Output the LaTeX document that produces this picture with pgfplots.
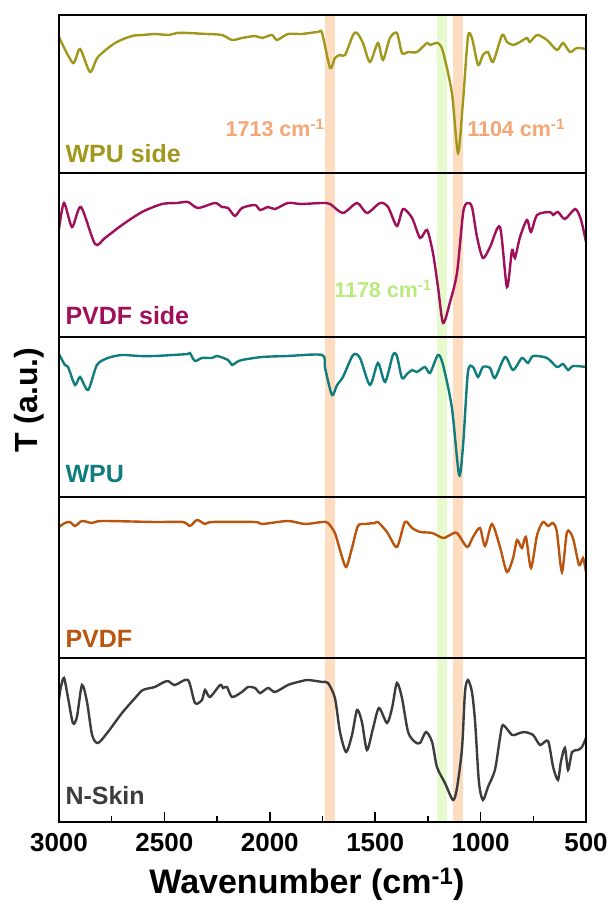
\documentclass[border=0pt]{standalone}
\usepackage{pgfplots}
\pgfplotsset{compat=1.18}
\usepackage{fontspec}
\setmainfont{Liberation Sans}
\definecolor{cWPUs}{RGB}{160,152,28}
\definecolor{cPVDFs}{RGB}{160,16,90}
\definecolor{cWPU}{RGB}{16,125,125}
\definecolor{cPVDF}{RGB}{185,85,15}
\definecolor{cNS}{RGB}{60,60,60}
\definecolor{bandO}{RGB}{253,220,192}
\definecolor{bandG}{RGB}{230,250,205}
\definecolor{txtO}{RGB}{244,166,116}
\definecolor{txtG}{RGB}{187,234,125}
\pgfplotsset{
  panel/.style={scale only axis, width=527pt, xmin=500, xmax=3000, x dir=reverse,
    ytick=\empty, axis line style={line width=1.5pt}, axis on top,
    anchor=south west},
  spec/.style={line width=2.4pt, smooth, tension=0.45},
}
\newcommand{\bands}{%
  \addplot[draw=none, fill=bandO] coordinates {(1690,-20) (1738,-20) (1738,200) (1690,200)} -- cycle;
  \addplot[draw=none, fill=bandG] coordinates {(1160,-20) (1207,-20) (1207,200) (1160,200)} -- cycle;
  \addplot[draw=none, fill=bandO] coordinates {(1083,-20) (1131,-20) (1131,200) (1083,200)} -- cycle;
}
\newcommand{\lab}[3]{\node[anchor=base west, inner sep=0pt, text=#1, font=\fontsize{25}{25}\selectfont\bfseries] at (axis cs:2970,#2) {#3};}
\begin{document}
\begin{tikzpicture}
\path[use as bounding box] (0,0) rectangle (612pt,905pt);
% P1 WPU side
\begin{axis}[panel, xtick=\empty, at={(59pt,732pt)}, height=158pt, ymin=3, ymax=161]
\bands
\addplot[spec, cWPUs] coordinates {(3000,139) (2934,113) (2900,127) (2853,104) (2815,119) (2734,133) (2654,140) (2600,141) (2545,142) (2480,141) (2440,143) (2388,143) (2300,142) (2227,141) (2179,136) (2132,138) (2070,140) (2037,138) (1990,141) (1966,136) (1914,142) (1850,142) (1771,144) (1752,143) (1714,108) (1691,118) (1667,121) (1643,121) (1605,141) (1586,143) (1558,133) (1525,114) (1487,133) (1463,116) (1430,138) (1397,143) (1373,123) (1344,124) (1302,124) (1254,133) (1240,131) (1202,133) (1178,124) (1136,83) (1107,23) (1083,76) (1060,139) (1041,138) (1012,111) (989,121) (965,124) (941,114) (898,141) (875,134) (846,131) (813,134) (780,138) (766,134) (732,141) (685,136) (638,126) (609,133) (576,124) (543,128) (500,127)};
\lab{cWPUs}{13}{WPU side}
\node[anchor=base west, inner sep=0pt, text=txtO, font=\fontsize{21.5}{21.5}\selectfont\bfseries] at (axis cs:2210,39) {1713 cm\textsuperscript{-1}};
\node[anchor=base west, inner sep=0pt, text=txtO, font=\fontsize{21.5}{21.5}\selectfont\bfseries] at (axis cs:1064,39) {1104 cm\textsuperscript{-1}};
\end{axis}
% P2 PVDF side
\begin{axis}[panel, xtick=\empty, at={(59pt,568pt)}, height=164pt, ymin=-3, ymax=161]
\bands
\addplot[spec, cPVDFs] coordinates {(3000,105) (2976,131) (2938,107) (2896,127) (2829,90) (2782,96) (2701,109) (2606,122) (2511,130) (2440,131) (2388,132) (2341,126) (2260,131) (2227,127) (2198,126) (2165,118) (2132,126) (2070,129) (2046,124) (2008,127) (1975,125) (1914,131) (1850,130) (1752,131) (1714,130) (1653,121) (1586,131) (1539,121) (1477,131) (1439,127) (1397,108) (1368,125) (1325,116) (1287,96) (1254,104) (1226,81) (1202,47) (1178,11) (1145,32) (1112,61) (1083,121) (1064,131) (1041,127) (1017,97) (989,76) (955,87) (908,107) (875,47) (851,84) (837,76) (813,97) (780,114) (761,102) (732,119) (671,122) (656,119) (633,122) (600,115) (552,125) (528,117) (514,106) (500,92)};
\lab{cPVDFs}{9}{PVDF side}
\node[anchor=base west, inner sep=0pt, text=txtG, font=\fontsize{21.5}{21.5}\selectfont\bfseries] at (axis cs:1695,36) {1178 cm\textsuperscript{-1}};
\end{axis}
% P3 WPU
\begin{axis}[panel, xtick=\empty, at={(59pt,408pt)}, height=160pt, ymin=1, ymax=161]
\bands
\addplot[spec, cWPU] coordinates {(3000,144) (2972,133) (2957,131) (2924,113) (2900,121) (2862,108) (2820,133) (2768,140) (2701,143) (2620,142) (2545,142) (2460,143) (2388,144) (2379,145) (2355,137) (2322,140) (2274,140) (2250,142) (2198,138) (2179,133) (2156,136) (2132,138) (2037,141) (1914,142) (1752,143) (1738,130) (1705,103) (1681,113) (1653,121) (1605,143) (1572,140) (1525,113) (1487,135) (1453,116) (1416,143) (1397,142) (1373,120) (1349,124) (1325,128) (1302,126) (1264,131) (1240,125) (1202,143) (1178,133) (1136,90) (1102,23) (1083,53) (1060,126) (1036,131) (1012,121) (989,131) (955,130) (932,120) (884,141) (846,128) (804,140) (775,135) (751,142) (685,140) (638,131) (609,134) (585,128) (562,132) (500,131)};
\lab{cWPU}{15}{WPU}
\end{axis}
% P4 PVDF
\begin{axis}[panel, xtick=\empty, at={(59pt,247pt)}, height=161pt, ymin=0, ymax=161]
\bands
\addplot[spec, cPVDF] coordinates {(3000,131) (2972,135) (2948,136) (2924,132) (2891,137) (2843,135) (2796,137) (2545,136) (2412,136) (2379,132) (2345,138) (2307,134) (2274,136) (2070,136) (2037,134) (1914,137) (1833,134) (1752,136) (1724,135) (1691,125) (1667,108) (1638,91) (1610,110) (1582,132) (1548,134) (1501,135) (1487,136) (1444,126) (1397,111) (1359,136) (1325,130) (1287,126) (1230,125) (1178,120) (1145,123) (1112,125) (1064,111) (1036,121) (1003,130) (979,112) (946,134) (908,111) (875,86) (846,100) (827,118) (804,110) (785,121) (761,90) (732,123) (704,136) (680,132) (656,135) (638,126) (614,86) (590,126) (562,120) (533,93) (514,100) (500,86)};
\lab{cPVDF}{10}{PVDF}
\end{axis}
% P5 N-Skin
\begin{axis}[panel, at={(59pt,83pt)}, height=164pt, ymin=-3, ymax=161,
  xtick={500,1000,1500,2000,2500,3000}, minor xtick={750,1250,1750,2250,2750},
  xtick pos=bottom, tick align=inside, major tick length=10pt, minor tick length=6pt,
  tick style={line width=1.5pt, black},
  /pgf/number format/assume math mode=true, /pgf/number format/1000 sep={},
  xticklabel style={font=\fontsize{26}{26}\selectfont\bfseries, yshift=-8pt}]
\bands
\addplot[spec, cNS] coordinates {(3000,120) (2991,132) (2976,141) (2957,121) (2934,96) (2915,102) (2891,134) (2867,117) (2843,84) (2815,76) (2768,87) (2701,106) (2639,121) (2602,129) (2545,132) (2511,136) (2483,138) (2450,134) (2388,139) (2355,116) (2322,119) (2307,129) (2284,122) (2236,134) (2222,131) (2203,132) (2179,122) (2132,127) (2103,132) (2070,131) (2046,126) (2008,131) (1975,127) (1914,134) (1866,137) (1819,139) (1752,137) (1724,136) (1691,121) (1667,87) (1638,67) (1610,84) (1586,109) (1563,97) (1539,69) (1510,91) (1482,111) (1444,96) (1420,111) (1397,136) (1373,121) (1344,87) (1311,77) (1287,76) (1259,87) (1230,77) (1207,52) (1169,36) (1131,19) (1112,31) (1088,71) (1074,127) (1060,139) (1041,127) (1026,97) (1008,37) (989,19) (965,32) (932,49) (908,81) (894,94) (851,84) (827,85) (794,87) (751,84) (718,74) (680,78) (656,52) (633,39) (619,57) (600,71) (585,49) (566,67) (538,69) (519,72) (500,81)};
\lab{cNS}{14}{N-Skin}
\end{axis}
\node[font=\fontsize{34}{34}\selectfont\bfseries] at (307pt,21pt) {Wavenumber (cm\textsuperscript{-1})};
\node[rotate=90, font=\fontsize{32}{32}\selectfont\bfseries] at (29pt,505pt) {T (a.u.)};
\end{tikzpicture}
\end{document}
